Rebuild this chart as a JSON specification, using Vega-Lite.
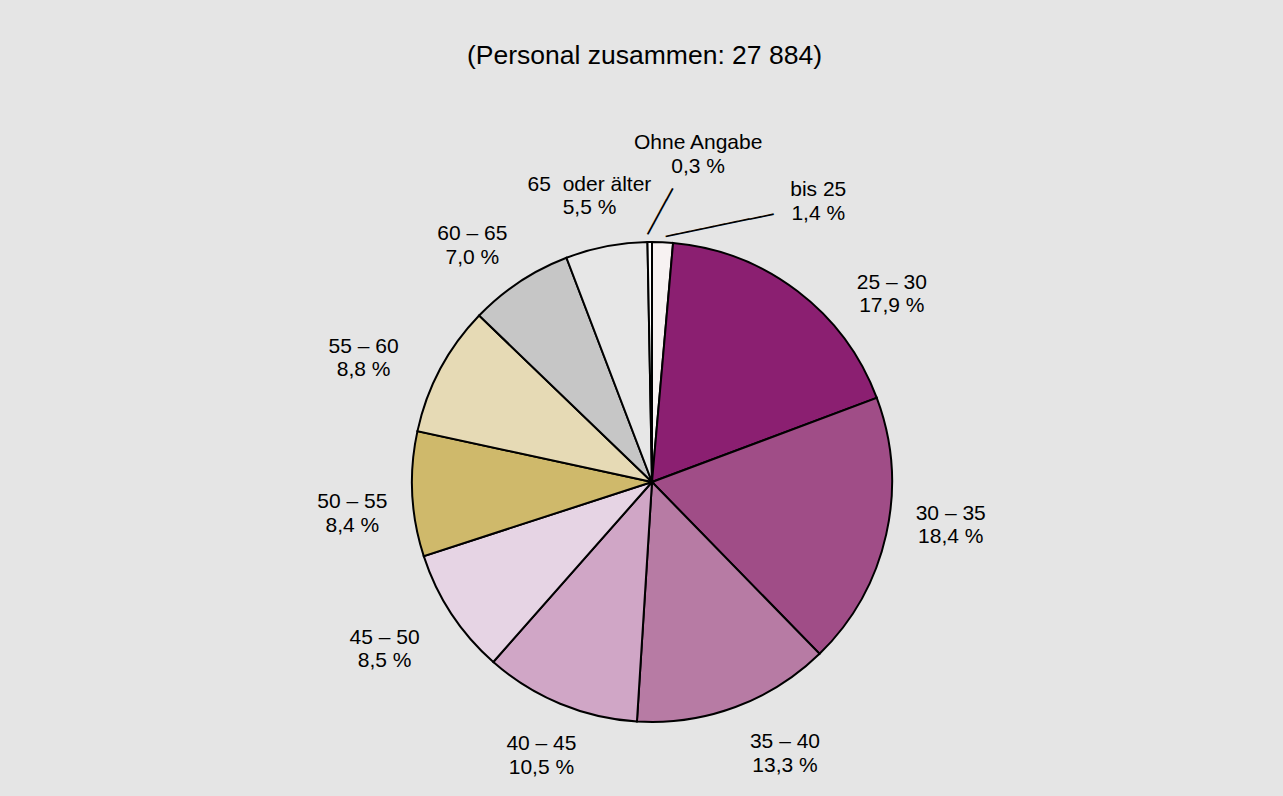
{
  "$schema": "https://vega.github.io/schema/vega-lite/v6.json",
  "autosize": "none",
  "width": 628,
  "height": 628,
  "padding": {"left": 338, "top": 168, "right": 317, "bottom": 0},
  "background": "#e5e5e5",
  "config": {"view": {"stroke": null}},
  "title": {
    "text": "(Personal zusammen: 27 884)",
    "font": "Liberation Sans",
    "fontSize": 26.5,
    "fontWeight": "normal",
    "color": "#000000",
    "anchor": "middle",
    "frame": "group",
    "offset": 63,
    "dx": -7.5
  },
  "data": {
    "values": [
      {"age": "bis 25", "pct": 1.4, "ord": 1, "label": "bis 25\n1,4 %"},
      {"age": "25 – 30", "pct": 17.9, "ord": 2, "label": "25 – 30\n17,9 %"},
      {"age": "30 – 35", "pct": 18.4, "ord": 3, "label": "30 – 35\n18,4 %"},
      {"age": "35 – 40", "pct": 13.3, "ord": 4, "label": "35 – 40\n13,3 %"},
      {"age": "40 – 45", "pct": 10.5, "ord": 5, "label": "40 – 45\n10,5 %"},
      {"age": "45 – 50", "pct": 8.5, "ord": 6, "label": "45 – 50\n8,5 %"},
      {"age": "50 – 55", "pct": 8.4, "ord": 7, "label": "50 – 55\n8,4 %"},
      {"age": "55 – 60", "pct": 8.8, "ord": 8, "label": "55 – 60\n8,8 %"},
      {"age": "60 – 65", "pct": 7.0, "ord": 9, "label": "60 – 65\n7,0 %"},
      {"age": "65 oder älter", "pct": 5.5, "ord": 10, "label": "65\u00a0 oder älter\n5,5 %"},
      {"age": "Ohne Angabe", "pct": 0.3, "ord": 11, "label": "Ohne Angabe\n0,3 %"}
    ]
  },
  "encoding": {
    "theta": {"field": "pct", "type": "quantitative", "stack": true},
    "order": {"field": "ord", "type": "quantitative"},
    "detail": {"field": "age", "type": "nominal"}
  },
  "layer": [
    {
      "mark": {"type": "arc", "outerRadius": 240, "stroke": "#000000", "strokeWidth": 2},
      "encoding": {
        "color": {
          "field": "age",
          "type": "nominal",
          "legend": null,
          "scale": {
            "domain": ["bis 25", "25 – 30", "30 – 35", "35 – 40", "40 – 45", "45 – 50", "50 – 55", "55 – 60", "60 – 65", "65 oder älter", "Ohne Angabe"],
            "range": ["#f7f2f2", "#8b1f71", "#a04d87", "#b77ba4", "#d0a6c6", "#e6d4e4", "#cfb96b", "#e6dab5", "#c6c6c6", "#e7e7e7", "#ffffff"]
          }
        }
      }
    },
    {
      "mark": {"type": "text", "radius": 302, "dx": 153, "dy": 10, "font": "Liberation Sans", "fontSize": 21, "lineHeight": 23.5, "align": "center", "baseline": "middle", "lineBreak": "\n", "color": "#000000"},
      "encoding": {"text": {"condition": {"test": "datum.ord == 1", "field": "label"}, "value": ""}}
    },
    {
      "mark": {"type": "text", "radius": 302, "dx": 57, "dy": 41, "font": "Liberation Sans", "fontSize": 21, "lineHeight": 23.5, "align": "center", "baseline": "middle", "lineBreak": "\n", "color": "#000000"},
      "encoding": {"text": {"condition": {"test": "datum.ord == 2", "field": "label"}, "value": ""}}
    },
    {
      "mark": {"type": "text", "radius": 302, "dx": 4, "dy": -34, "font": "Liberation Sans", "fontSize": 21, "lineHeight": 23.5, "align": "center", "baseline": "middle", "lineBreak": "\n", "color": "#000000"},
      "encoding": {"text": {"condition": {"test": "datum.ord == 3", "field": "label"}, "value": ""}}
    },
    {
      "mark": {"type": "text", "radius": 302, "dx": 28, "dy": -23, "font": "Liberation Sans", "fontSize": 21, "lineHeight": 23.5, "align": "center", "baseline": "middle", "lineBreak": "\n", "color": "#000000"},
      "encoding": {"text": {"condition": {"test": "datum.ord == 4", "field": "label"}, "value": ""}}
    },
    {
      "mark": {"type": "text", "radius": 302, "dx": 5, "dy": -17, "font": "Liberation Sans", "fontSize": 21, "lineHeight": 23.5, "align": "center", "baseline": "middle", "lineBreak": "\n", "color": "#000000"},
      "encoding": {"text": {"condition": {"test": "datum.ord == 5", "field": "label"}, "value": ""}}
    },
    {
      "mark": {"type": "text", "radius": 302, "dx": -15, "dy": -10, "font": "Liberation Sans", "fontSize": 21, "lineHeight": 23.5, "align": "center", "baseline": "middle", "lineBreak": "\n", "color": "#000000"},
      "encoding": {"text": {"condition": {"test": "datum.ord == 6", "field": "label"}, "value": ""}}
    },
    {
      "mark": {"type": "text", "radius": 302, "dx": 2, "dy": 5, "font": "Liberation Sans", "fontSize": 21, "lineHeight": 23.5, "align": "center", "baseline": "middle", "lineBreak": "\n", "color": "#000000"},
      "encoding": {"text": {"condition": {"test": "datum.ord == 7", "field": "label"}, "value": ""}}
    },
    {
      "mark": {"type": "text", "radius": 302, "dx": -22, "dy": 7, "font": "Liberation Sans", "fontSize": 21, "lineHeight": 23.5, "align": "center", "baseline": "middle", "lineBreak": "\n", "color": "#000000"},
      "encoding": {"text": {"condition": {"test": "datum.ord == 8", "field": "label"}, "value": ""}}
    },
    {
      "mark": {"type": "text", "radius": 302, "dx": -13, "dy": 4, "font": "Liberation Sans", "fontSize": 21, "lineHeight": 23.5, "align": "center", "baseline": "middle", "lineBreak": "\n", "color": "#000000"},
      "encoding": {"text": {"condition": {"test": "datum.ord == 9", "field": "label"}, "value": ""}}
    },
    {
      "mark": {"type": "text", "radius": 302, "dx": -5, "dy": -1, "font": "Liberation Sans", "fontSize": 21, "lineHeight": 23.5, "align": "center", "baseline": "middle", "lineBreak": "\n", "color": "#000000"},
      "encoding": {"text": {"condition": {"test": "datum.ord == 10", "field": "label"}, "value": ""}}
    },
    {
      "mark": {"type": "text", "radius": 302, "dx": 49, "dy": -37, "font": "Liberation Sans", "fontSize": 21, "lineHeight": 23.5, "align": "center", "baseline": "middle", "lineBreak": "\n", "color": "#000000"},
      "encoding": {"text": {"condition": {"test": "datum.ord == 11", "field": "label"}, "value": ""}}
    },
    {
      "mark": {"type": "text", "radius": 270, "angle": 348.3, "dx": 52, "dy": 25, "font": "DejaVu Sans Mono", "fontSize": 20.3, "align": "center", "baseline": "middle", "color": "#000000"},
      "encoding": {"text": {"condition": {"test": "datum.ord == 1", "value": "─────────"}, "value": ""}}
    },
    {
      "mark": {"type": "text", "radius": 270, "angle": 298.5, "dx": 5.7, "dy": 10.5, "font": "DejaVu Sans Mono", "fontSize": 21.6, "align": "center", "baseline": "middle", "color": "#000000"},
      "encoding": {"text": {"condition": {"test": "datum.ord == 11", "value": "────"}, "value": ""}}
    }
  ]
}
